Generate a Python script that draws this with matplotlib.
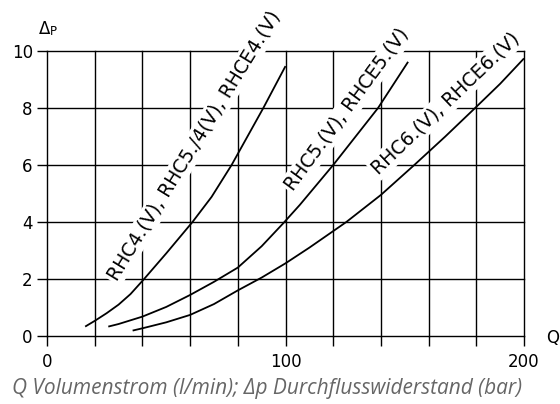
import matplotlib
matplotlib.use("Agg")
import matplotlib.pyplot as plt

W, H = 560, 404

# ---- data ----
q_rhc4 = [16, 20, 25, 30, 35, 40.5, 50, 61, 69, 77.4, 90.7, 100]
p_rhc4 = [0.33, 0.53, 0.80, 1.10, 1.47, 1.98, 2.90, 4.00, 4.88, 6.00, 8.00, 9.47]

q_rhc5 = [25.7, 30, 40, 50, 60, 70, 80, 90, 99, 106, 120, 138.8, 151.4]
p_rhc5 = [0.33, 0.42, 0.68, 1.02, 1.44, 1.90, 2.40, 3.15, 3.95, 4.60, 6.00, 8.00, 9.62]

q_rhc6 = [35.9, 40, 50, 60, 70, 80, 90, 100, 110, 125.5, 140, 154, 167, 179.5, 190, 200]
p_rhc6 = [0.19, 0.27, 0.48, 0.74, 1.12, 1.60, 2.05, 2.55, 3.10, 4.00, 4.95, 6.00, 7.00, 8.00, 8.85, 9.74]

curve_labels = ["RHC4.(V), RHC5./4(V), RHCE4.(V)",
                "RHC5.(V), RHCE5.(V)",
                "RHC6.(V), RHCE6.(V)"]

x_ticks = list(range(0, 201, 20))
x_ticklabels = ["0" if v == 0 else ("100" if v == 100 else ("200" if v == 200 else "")) for v in x_ticks]
y_ticks = list(range(0, 11, 2))
y_ticklabels = [str(v) for v in y_ticks]

caption = "Q Volumenstrom (l/min); \u0394p Durchflusswiderstand (bar)"

# ---- figure ----
fig = plt.figure(figsize=(W / 100, H / 100), dpi=100)
left, right, bottom, top = 47, 524, 336, 51
ax = fig.add_axes([left / W, 1 - bottom / H, (right - left) / W, (bottom - top) / H])
ax.set_xlim(0, 200)
ax.set_ylim(0, 10)
for s in ax.spines.values():
    s.set_visible(False)

sans = ["DejaVu Sans"]

ax.set_xticks(x_ticks)
ax.set_xticklabels(x_ticklabels, fontsize=12, family=sans)
ax.set_yticks(y_ticks)
ax.set_yticklabels(y_ticklabels, fontsize=12, family=sans)
ax.tick_params(axis="x", direction="out", length=7.2, width=1.0, pad=5)
ax.tick_params(axis="y", direction="out", length=7.2, width=1.0, pad=3)
ax.set_axisbelow(True)
ax.grid(True, color="black", linewidth=1.0)
for gl in ax.get_xgridlines() + ax.get_ygridlines():
    gl.set_clip_on(False)

lw = 1.3
ax.plot(q_rhc4, p_rhc4, color="black", lw=lw, zorder=4, solid_capstyle="butt")
ax.plot(q_rhc5, p_rhc5, color="black", lw=lw, zorder=4, solid_capstyle="butt")
ax.plot(q_rhc6, p_rhc6, color="black", lw=lw, zorder=4, solid_capstyle="butt")

bb = dict(facecolor="white", edgecolor="none", pad=1.5)
lab_pos = [(29.2, 1.9, 58.4), (103.3, 5.06, 53.7), (138.9, 5.65, 43.6)]
for txt, (qx, py, ang) in zip(curve_labels, lab_pos):
    ax.text(qx, py, txt, rotation=ang, rotation_mode="anchor", ha="left", va="baseline",
            fontsize=13.6, family=sans, bbox=bb, zorder=3)

# axis labels
fig.text(39 / W, 1 - 34 / H, "\u0394", fontsize=12, family=sans, ha="left", va="baseline")
fig.text(50 / W, 1 - 35 / H, "P", fontsize=8.5, family=sans, ha="left", va="baseline")
fig.text(553 / W, 1 - 338 / H, "Q", fontsize=12, family=sans, ha="center", va="center")

fig.text(12 / W, 1 - 394 / H, caption, fontsize=15, family=["Open Sans", "DejaVu Sans"],
         style="italic", color="#666666", ha="left", va="baseline")

fig.savefig("out.png", dpi=100)
